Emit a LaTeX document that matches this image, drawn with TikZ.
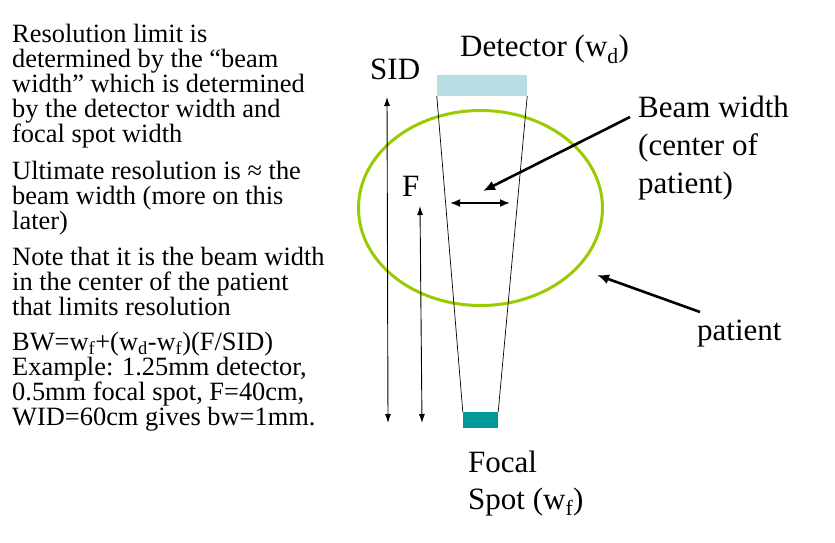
\documentclass[tikz,border=0pt]{standalone}
\usepackage{fontspec}
\setmainfont{Liberation Serif}
\usetikzlibrary{shapes.geometric, arrows.meta, positioning, calc}

\definecolor{detblue}{RGB}{183,222,226}
\definecolor{focalteal}{RGB}{0,153,153}
\definecolor{patgreen}{RGB}{153,204,0}

\tikzset{
  bodytext/.style={anchor=base west, inner sep=0pt, align=left, font=\fontsize{26.4}{25}\selectfont},
  bigtext/.style={anchor=base west, inner sep=0pt, align=left, font=\fontsize{31}{38}\selectfont},
  dimarrow/.style={{Latex[length=9pt,width=6pt]}-{Latex[length=9pt,width=6pt]}, line width=0.9pt},
  widtharrow/.style={{Latex[length=10pt,width=8pt]}-{Latex[length=10pt,width=8pt]}, line width=1.8pt},
  pointer/.style={-{Latex[length=12pt,width=10pt]}, line width=2.6pt},
  beamline/.style={line width=0.7pt}
}

\begin{document}
\begin{tikzpicture}[x=1pt, y=-1pt]
    \useasboundingbox (0,0) rectangle (835,543);

    % left column text (placed by the baseline of the last line)
    \node (para1) [bodytext] at (12,142.7) {Resolution limit is\\ determined by the “beam\\ width” which is determined\\ by the detector width and\\ focal spot width};
    \node (para2) [bodytext] at (12,229) {Ultimate resolution is ≈ the\\ beam width (more on this\\ later)};
    \node (para3) [bodytext] at (12,315) {Note that it is the beam width\\ in the center of the patient\\ that limits resolution};
    \node (para4) [bodytext] at (12,425) {BW=w\textsubscript{f}+(w\textsubscript{d}-w\textsubscript{f})(F/SID)\\ Example: 1.25mm detector,\\ 0.5mm focal spot, F=40cm,\\ WID=60cm gives bw=1mm.};

    % geometry
    \node (det) [rectangle, fill=detblue, minimum width=90pt, minimum height=21pt, inner sep=0pt] at (482,85.5) {};
    \node (focal) [rectangle, fill=focalteal, minimum width=35pt, minimum height=16pt, inner sep=0pt] at (480.5,420) {};
    \node (patient) [ellipse, draw=patgreen, line width=3pt, minimum width=244pt, minimum height=195pt, inner sep=0pt] at (480.5,208) {};

    \draw [beamline] (det.south west) -- (focal.north west);
    \draw [beamline] (det.south east) -- (focal.north east);

    % labels
    \node (detlab) [bigtext] at (460,56.7) {Detector (w\textsubscript{d})};
    \node (sidlab) [bigtext] at (370,80) {SID};
    \node (flab) [bigtext] at (402,196.7) {F};
    \node (bwlab) [bigtext] at (638,193) {Beam width\\ (center of\\ patient)};
    \node (patlab) [bigtext] at (697,340) {patient};
    \node (foclab) [bigtext, font=\fontsize{31}{37}\selectfont] at (468,509) {Focal\\ Spot (w\textsubscript{f})};

    % distances
    \coordinate (sidtop) at (387,97);
    \coordinate (sidbot) at (388,423);
    \coordinate (ftop) at (420,206);
    \coordinate (fbot) at (422,423);
    \draw [dimarrow] (sidtop) -- (sidbot);
    \draw [dimarrow] (ftop) -- (fbot);

    \coordinate (bwleft) at (450,203);
    \coordinate (bwright) at (510,203);
    \draw [widtharrow] (bwleft) -- (bwright);

    % pointers
    \coordinate (bwtail) at (630,117);
    \coordinate (bwtip) at (483,191);
    \draw [pointer] (bwtail) -- (bwtip);
    \coordinate (pattail) at (700,312);
    \coordinate (pattip) at (597,275);
    \draw [pointer] (pattail) -- (pattip);
\end{tikzpicture}
\end{document}
